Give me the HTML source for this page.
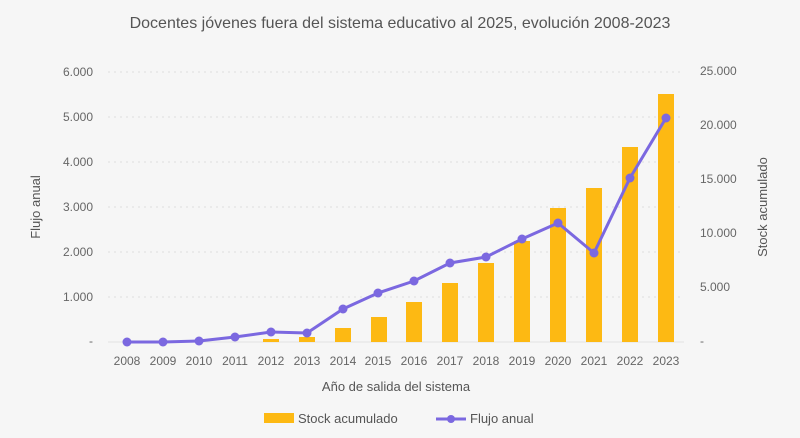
<!DOCTYPE html>
<html><head><meta charset="utf-8"><style>
html,body{margin:0;padding:0;background:#f6f6f6;}
svg{display:block;font-family:"Liberation Sans",sans-serif;}
</style></head><body>
<svg width="800" height="438" viewBox="0 0 800 438">
<rect width="800" height="438" fill="#f6f6f6"/>
<text x="400" y="28" text-anchor="middle" font-size="16" fill="#555">Docentes jóvenes fuera del sistema educativo al 2025, evolución 2008-2023</text>
<g stroke="#dedede" stroke-dasharray="2,4" stroke-width="1">
<line x1="108" x2="684" y1="72" y2="72"/><line x1="108" x2="684" y1="117" y2="117"/>
<line x1="108" x2="684" y1="162" y2="162"/><line x1="108" x2="684" y1="207" y2="207"/>
<line x1="108" x2="684" y1="252" y2="252"/><line x1="108" x2="684" y1="297" y2="297"/>
</g>
<line x1="108" x2="684" y1="342" y2="342" stroke="#e2e2e2"/>
<g font-size="12" fill="#666" text-anchor="end">
<text x="93" y="76">6.000</text><text x="93" y="121">5.000</text><text x="93" y="166">4.000</text>
<text x="93" y="211">3.000</text><text x="93" y="256">2.000</text><text x="93" y="301">1.000</text><text x="93" y="345">-</text>
</g>
<g font-size="12" fill="#666" text-anchor="start">
<text x="700" y="75">25.000</text><text x="700" y="129">20.000</text><text x="700" y="183">15.000</text>
<text x="700" y="237">10.000</text><text x="700" y="291">5.000</text><text x="700" y="345">-</text>
</g>
<text transform="translate(40,207) rotate(-90)" text-anchor="middle" font-size="13" fill="#555">Flujo anual</text>
<text transform="translate(767,207) rotate(-90)" text-anchor="middle" font-size="13" fill="#555">Stock acumulado</text>
<g fill="#fdb913">
<rect x="263" y="339" width="16" height="3"/><rect x="299" y="337" width="16" height="5"/>
<rect x="335" y="328" width="16" height="14"/><rect x="371" y="317" width="16" height="25"/>
<rect x="406" y="302" width="16" height="40"/><rect x="442" y="283" width="16" height="59"/>
<rect x="478" y="263" width="16" height="79"/><rect x="514" y="241" width="16" height="101"/>
<rect x="550" y="208" width="16" height="134"/><rect x="586" y="188" width="16" height="154"/>
<rect x="622" y="147" width="16" height="195"/><rect x="658" y="94" width="16" height="248"/>
</g>
<polyline fill="none" stroke="#7b68e0" stroke-width="3" points="127,342 163,342 199,341 235,337 271,332 307,333 343,309 378,293 414,281 450,263 486,257 522,239 558,223 594,253 630,178 666,118"/>
<g fill="#7b68e0">
<circle cx="127" cy="342" r="4.5"/><circle cx="163" cy="342" r="4.5"/><circle cx="199" cy="341" r="4.5"/><circle cx="235" cy="337" r="4.5"/>
<circle cx="271" cy="332" r="4.5"/><circle cx="307" cy="333" r="4.5"/><circle cx="343" cy="309" r="4.5"/><circle cx="378" cy="293" r="4.5"/>
<circle cx="414" cy="281" r="4.5"/><circle cx="450" cy="263" r="4.5"/><circle cx="486" cy="257" r="4.5"/><circle cx="522" cy="239" r="4.5"/>
<circle cx="558" cy="223" r="4.5"/><circle cx="594" cy="253" r="4.5"/><circle cx="630" cy="178" r="4.5"/><circle cx="666" cy="118" r="4.5"/>
</g>
<g font-size="12" fill="#666" text-anchor="middle">
<text x="127" y="365">2008</text><text x="163" y="365">2009</text><text x="199" y="365">2010</text><text x="235" y="365">2011</text>
<text x="271" y="365">2012</text><text x="307" y="365">2013</text><text x="343" y="365">2014</text><text x="378" y="365">2015</text>
<text x="414" y="365">2016</text><text x="450" y="365">2017</text><text x="486" y="365">2018</text><text x="522" y="365">2019</text>
<text x="558" y="365">2020</text><text x="594" y="365">2021</text><text x="630" y="365">2022</text><text x="666" y="365">2023</text>
</g>
<text x="396" y="391" text-anchor="middle" font-size="13" fill="#555">Año de salida del sistema</text>
<rect x="264" y="413" width="30" height="10" fill="#fdb913"/>
<text x="298" y="423" font-size="13" fill="#555">Stock acumulado</text>
<line x1="436" x2="466" y1="419" y2="419" stroke="#7b68e0" stroke-width="3"/>
<circle cx="451" cy="419" r="4" fill="#7b68e0"/>
<text x="470" y="423" font-size="13" fill="#555">Flujo anual</text>
</svg>
</body></html>
